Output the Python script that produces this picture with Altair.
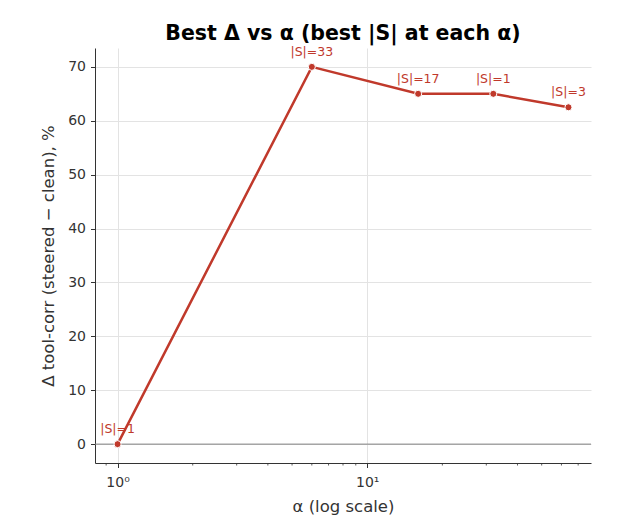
import altair as alt
import pandas as pd

alphas = [1, 6, 16, 32, 64]
deltas = [0.0, 70.0, 65.0, 65.0, 62.5]
labels = ["|S|=1", "|S|=33", "|S|=17", "|S|=1", "|S|=3"]
major_ticks = [1, 10]
minor_ticks = [0.9, 2, 3, 4, 5, 6, 7, 8, 9, 20, 30, 40, 50, 60, 70]
y_ticks = [0, 10, 20, 30, 40, 50, 60, 70]

df = pd.DataFrame({"alpha": alphas, "delta": deltas, "label": labels})
RED = "#c0392b"
FONT = "DejaVu Sans"
H = 415

xscale = alt.Scale(type="log", domain=[0.812, 78.8], nice=False)
yscale = alt.Scale(domain=[-3.5, 73.5], nice=False, zero=False)

base = alt.Chart(df)

line = base.mark_line(color=RED, strokeWidth=2.5).encode(
    x=alt.X("alpha:Q", scale=xscale,
            axis=alt.Axis(values=major_ticks, title="α (log scale)",
                          labelExpr="datum.value == 1 ? '10⁰' : '10¹'",
                          grid=True, gridColor="#e3e3e3", tickSize=4.5,
                          labelPadding=8, titlePadding=9,
                          labelFontSize=14, titleFontSize=16.5)),
    y=alt.Y("delta:Q", scale=yscale,
            axis=alt.Axis(values=y_ticks, title="Δ tool-corr (steered − clean), %",
                          grid=True, gridColor="#e3e3e3", tickSize=4.5,
                          labelPadding=5, titlePadding=11,
                          labelFontSize=14, titleFontSize=16.5)),
)

pts = base.mark_point(filled=True, color=RED, size=50, stroke="white",
                      strokeWidth=1, opacity=1).encode(
    x=alt.X("alpha:Q", scale=xscale),
    y=alt.Y("delta:Q", scale=yscale),
)

txt = base.mark_text(color=RED, fontSize=12.5, dy=-15, font=FONT).encode(
    x=alt.X("alpha:Q", scale=xscale),
    y=alt.Y("delta:Q", scale=yscale),
    text="label:N",
)

zero = alt.Chart(pd.DataFrame({"z": [0]})).mark_rule(color="#808080", strokeWidth=1).encode(
    y=alt.Y("z:Q", scale=yscale)
)

minor = alt.Chart(pd.DataFrame({"m": minor_ticks})).mark_rule(
    color="#333333", strokeWidth=0.8).encode(
    x=alt.X("m:Q", scale=xscale),
    y=alt.value(H),
    y2=alt.value(H + 2.5),
)

chart = alt.layer(zero, line, pts, txt, minor).properties(
    width=496, height=H,
    title=alt.TitleParams("Best Δ vs α  (best |S| at each α)", fontSize=20.5,
                          fontWeight="bold", font=FONT, color="black", offset=1),
    autosize=alt.AutoSizeParams(type="none"),
    padding={"left": 95, "top": 48, "right": 45, "bottom": 65},
).configure(background="white").configure_view(stroke=None).configure_axis(
    labelFont=FONT, titleFont=FONT, labelColor="#333333", titleColor="#333333",
    domainColor="#333333", tickColor="#333333", titleFontWeight="normal",
    domainWidth=1,
)

chart.save("out.html", embed_options={"renderer": "svg", "actions": False})
